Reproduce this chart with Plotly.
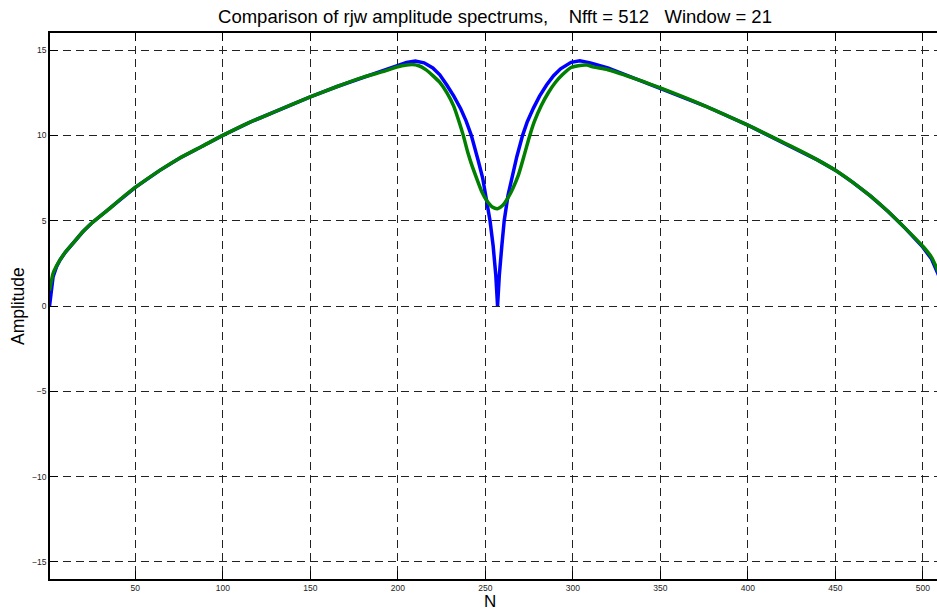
import plotly.graph_objects as go

# Raw amplitude spectrum (blue)
n_raw = [1, 2, 3, 5, 7, 10, 15, 20, 25, 34, 42, 50, 64, 75, 88, 100, 115, 130, 150,
         165, 180, 192, 200, 205, 210, 215, 220, 224, 228, 232, 236, 239, 242, 244,
         246, 248.5, 250.5, 252.7, 254.5, 256, 257, 258, 259.5, 260.8, 263, 265.5,
         268, 271.3, 274, 277.5, 281, 285, 289, 293, 299, 304, 310, 320, 338, 350,
         375, 400, 420, 430, 440, 450, 460, 470, 480, 490, 500, 505, 508, 512]
amp_raw = [0.0, 1.0, 1.7, 2.3, 2.7, 3.15, 3.75, 4.35, 4.85, 5.6, 6.3, 6.95, 7.95, 8.65,
           9.35, 10.0, 10.75, 11.4, 12.25, 12.85, 13.4, 13.8, 14.08, 14.28, 14.36, 14.25,
           13.95, 13.55, 12.95, 12.3, 11.55, 10.85, 10.0, 9.3, 8.5, 7.5, 6.4, 5.0, 3.5,
           1.8, 0.0, 1.8, 3.6, 5.0, 6.5, 7.7, 8.75, 10.0, 10.8, 11.6, 12.3, 12.95, 13.5,
           13.9, 14.28, 14.37, 14.25, 13.95, 13.24, 12.78, 11.75, 10.6, 9.6, 9.09, 8.55,
           7.96, 7.25, 6.45, 5.55, 4.55, 3.45, 2.75, 2.05, 1.1]

# Smoothed amplitude spectrum, window = 21 (green)
n_smooth = [1, 3, 5, 7, 10, 15, 20, 25, 34, 42, 50, 64, 75, 88, 100, 115, 130, 150,
            165, 180, 192, 200, 205, 208, 212, 216, 220, 224, 228, 232, 235, 237.4, 240,
            242.5, 245, 248, 251, 254, 257, 260, 263, 266, 269, 272, 275, 278, 282,
            286, 290, 294, 299, 304, 308, 312, 320, 338, 350, 375, 400, 420, 430, 440,
            450, 460, 470, 480, 490, 500, 505, 508, 512]
amp_smooth = [0.9, 1.9, 2.35, 2.7, 3.15, 3.75, 4.35, 4.85, 5.6, 6.3, 6.95, 7.95, 8.65,
              9.35, 10.0, 10.75, 11.4, 12.25, 12.85, 13.4, 13.75, 14.02, 14.12, 14.15,
              14.08, 13.85, 13.5, 13.1, 12.5, 11.7, 10.8, 10.0, 9.0, 8.2, 7.5, 6.7, 6.15,
              5.8, 5.7, 5.9, 6.35, 6.95, 7.7, 8.75, 9.85, 10.8, 11.75, 12.5, 13.1, 13.55,
              13.98, 14.1, 14.12, 14.0, 13.85, 13.24, 12.78, 11.75, 10.6, 9.6, 9.09, 8.55,
              7.96, 7.25, 6.45, 5.55, 4.55, 3.5, 2.85, 2.2, 1.3]

x_ticks = [50, 100, 150, 200, 250, 300, 350, 400, 450, 500]
y_ticks = [-15, -10, -5, 0, 5, 10, 15]

FONT = "Liberation Sans, Arial, sans-serif"

fig = go.Figure()
fig.add_trace(go.Scatter(x=n_raw, y=amp_raw, mode="lines",
                         line=dict(color="#0000ff", width=3.5), showlegend=False))
fig.add_trace(go.Scatter(x=n_smooth, y=amp_smooth, mode="lines",
                         line=dict(color="#007f00", width=3.5, shape="spline", smoothing=0.6),
                         showlegend=False))

axis_common = dict(
    showline=True, linecolor="black", linewidth=1.5,
    ticks="inside", ticklen=8, tickcolor="black", tickwidth=1,
    showgrid=True, gridcolor="#222222", gridwidth=1, griddash="8px,5px",
    zeroline=False,
    tickfont=dict(family=FONT, size=8.5, color="#222222"),
)

fig.update_xaxes(range=[1.26, 508.1], tickvals=x_ticks, mirror="ticks", **axis_common)
fig.update_yaxes(range=[-16, 16], tickvals=y_ticks, **axis_common)

fig.update_layout(
    width=937, height=610,
    margin=dict(l=50, r=0, t=33, b=31),
    paper_bgcolor="white", plot_bgcolor="white",
    font=dict(family=FONT, color="black"),
    title=dict(
        text="Comparison of rjw amplitude spectrums,&nbsp;&nbsp;&nbsp; Nfft = 512&nbsp;&nbsp;&nbsp;Window = 21",
        x=495 / 937, xref="container", xanchor="center",
        y=1 - 17 / 610, yref="container", yanchor="middle",
        font=dict(family=FONT, size=18.5, color="black"),
    ),
    annotations=[
        dict(text="Amplitude", textangle=-90, x=-32 / 887, y=0.5,
             xref="paper", yref="paper", xanchor="center", yanchor="middle",
             showarrow=False, font=dict(family=FONT, size=17.5, color="black")),
        dict(text="N", x=(490 - 50) / 887, y=-22 / 546,
             xref="paper", yref="paper", xanchor="center", yanchor="middle",
             showarrow=False, font=dict(family=FONT, size=17, color="black")),
    ],
)

fig.write_html("out.html")
